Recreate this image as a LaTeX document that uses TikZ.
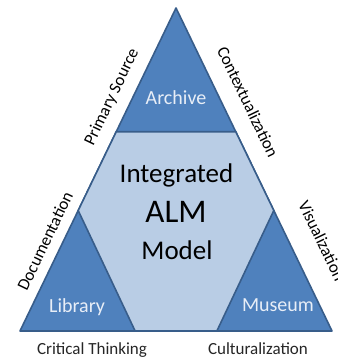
\documentclass[tikz,border=0pt]{standalone}
\usepackage{fontspec}
\setmainfont{Carlito}
\usepackage{xcolor}
\usepackage{tikz}
\usetikzlibrary{calc}

\definecolor{almdark}{HTML}{4F81BD}
\definecolor{almedge}{HTML}{385D8A}
\definecolor{almlight}{HTML}{B9CDE5}
\definecolor{almtext}{HTML}{E8EEF7}

\tikzset{
  piece/.style={draw=almedge, line width=1.6pt, line join=round},
  cornerlabel/.style={anchor=base, text=almtext, font=\fontsize{20}{24}\selectfont},
  corelabel/.style={anchor=base, text=black, font=\fontsize{27}{32}\selectfont},
  sidelabel/.style={text=black, inner sep=0pt, font=\fontsize{17}{20}\selectfont},
  footlabel/.style={anchor=base, text=black!85, inner sep=0pt, font=\fontsize{17}{20}\selectfont}
}

\begin{document}
\begin{tikzpicture}[x=1pt, y=1pt]
\clip (0,0) rectangle (337,358);
\fill[white] (0,0) rectangle (337,358);
% outer triangle
\coordinate (apex) at (176,350);
\coordinate (bl) at (20,27);
\coordinate (br) at (332,27);
% corners of the inner hexagon
\coordinate (arcL) at ($(apex)!0.383!(bl)$);
\coordinate (arcR) at ($(apex)!0.383!(br)$);
\coordinate (libT) at ($(bl)!0.373!(apex)$);
\coordinate (libR) at ($(bl)!0.369!(br)$);
\coordinate (musL) at ($(br)!0.369!(bl)$);
\coordinate (musT) at ($(br)!0.373!(apex)$);
\draw[piece, fill=almdark] (apex) -- (bl) -- (br) -- cycle;
\draw[piece, fill=almlight] (arcL) -- (arcR) -- (musT) -- (musL) -- (libR) -- (libT) -- cycle;
% texts inside
\node[cornerlabel] (archive) at (176,253) {Archive};
\node[cornerlabel] (library) at (77,45) {Library};
\node[cornerlabel] (museum) at (278,46) {Museum};
\node[corelabel] (integrated) at (176.5,175) {Integrated};
\node[corelabel, font=\fontsize{33}{38}\selectfont] (alm) at (176,135) {ALM};
\node[corelabel] (model) at (177,98) {Model};
% texts along the sides
\node[sidelabel, rotate=64.3] (primary) at (112,261) {Primary Source};
\node[sidelabel, rotate=64.3] (documentation) at (45,117) {Documentation};
\node[sidelabel, rotate=-64.3] (context) at (248,256) {Contextualization};
\node[sidelabel, rotate=-64.3] (visual) at (322,117) {Visualization};
% texts below
\node[footlabel] (critical) at (92,4) {Critical Thinking};
\node[footlabel] (cultural) at (258,4) {Culturalization};
\end{tikzpicture}
\end{document}
